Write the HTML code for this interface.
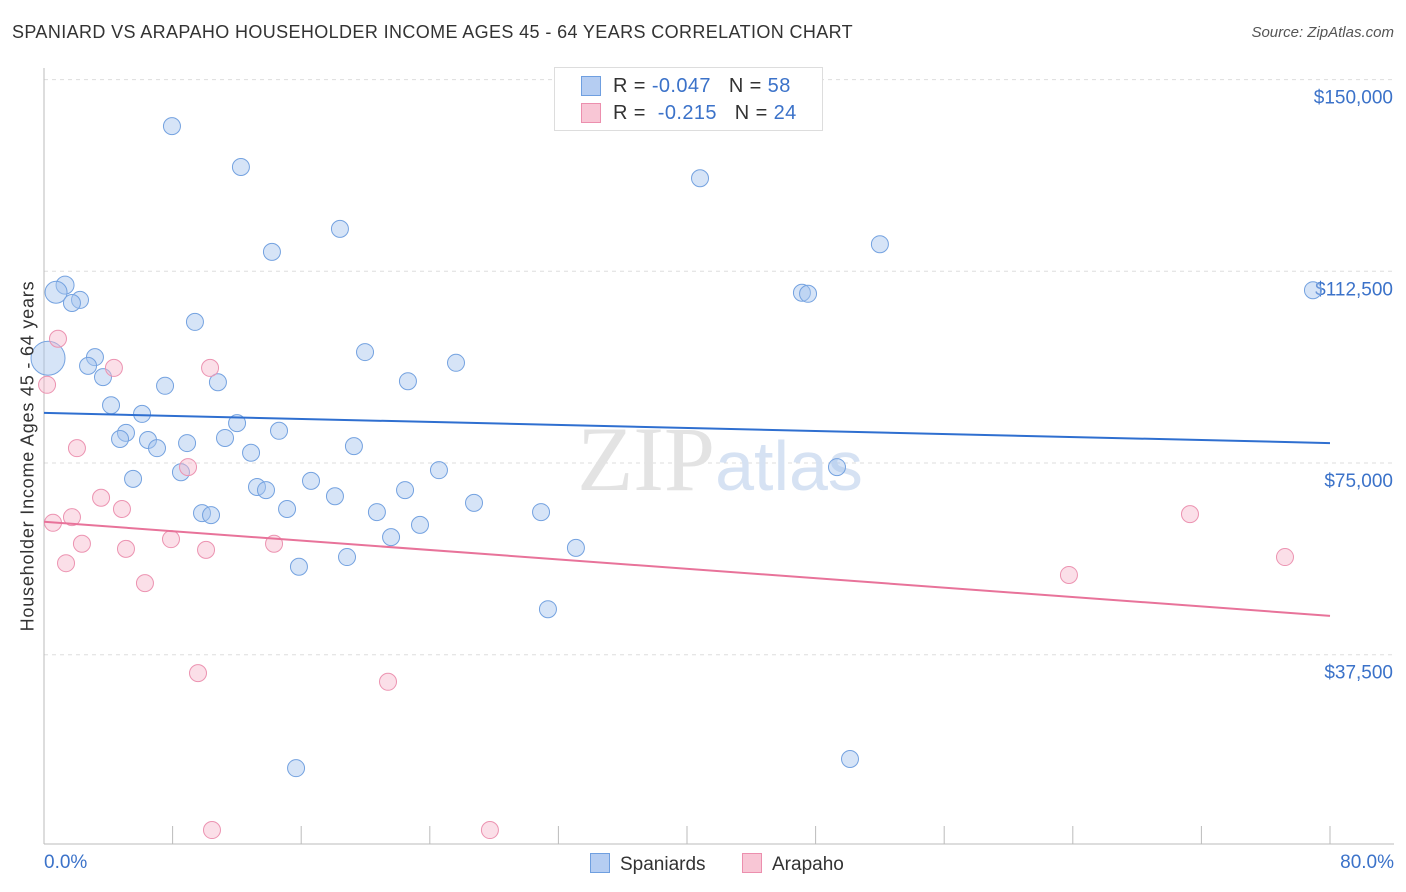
<!DOCTYPE html>
<html><head><meta charset="utf-8"><style>
body{margin:0;background:#fff;font-family:"Liberation Sans",sans-serif;}
#wrap{position:relative;width:1406px;height:892px;overflow:hidden;}
.t{position:absolute;white-space:nowrap;}
</style></head><body>
<div id="wrap">
<div class="t" style="left:12px;top:22px;font-size:18px;letter-spacing:0.38px;color:#333;">SPANIARD VS ARAPAHO HOUSEHOLDER INCOME AGES 45 - 64 YEARS CORRELATION CHART</div>
<div class="t" style="right:12px;top:24px;font-size:15px;color:#555;font-style:italic;">Source: ZipAtlas.com</div>
<svg id="svg" width="1406" height="892" style="position:absolute;left:0;top:0"></svg>
</div>
<script>
const blueX=[7.96,12.25,40.81,18.41,52.0,14.18,1.31,0.75,2.24,1.74,47.15,47.53,78.94,9.39,19.97,3.17,25.63,2.74,3.67,22.64,10.82,7.53,0.25,4.17,6.10,12.01,14.62,5.10,4.73,6.47,8.90,11.26,7.03,19.28,12.88,24.57,8.52,49.33,5.54,16.61,13.25,13.81,22.46,18.10,26.75,15.12,9.83,10.39,20.71,30.92,23.39,21.59,33.09,18.85,15.86,31.35,15.68,50.14];
const blueY=[140900,132900,130700,120800,117800,116300,109800,108400,106900,106300,108300,108100,108800,102600,96700,95700,94600,94000,91800,91000,90800,90100,95500,86300,84600,82800,81300,80900,79700,79500,78900,79900,77900,78300,77000,73600,73200,74200,71900,71500,70300,69700,69700,68500,67200,66000,65200,64800,65400,65400,62900,60500,58400,56600,54700,46400,15300,17100];
const blueR=[8.5,8.5,8.5,8.5,8.5,8.5,9,11,8.5,8.5,8.5,8.5,8.5,8.5,8.5,8.5,8.5,8.5,8.5,8.5,8.5,8.5,17,8.5,8.5,8.5,8.5,8.5,8.5,8.5,8.5,8.5,8.5,8.5,8.5,8.5,8.5,8.5,8.5,8.5,8.5,8.5,8.5,8.5,8.5,8.5,8.5,8.5,8.5,8.5,8.5,8.5,8.5,8.5,8.5,8.5,8.5,8.5];
const pinkX=[0.87,0.19,4.35,10.33,2.05,8.96,3.55,4.85,1.74,0.56,2.36,7.90,5.10,10.08,14.31,1.37,6.28,9.58,21.40,10.45,27.74,71.29,77.20,63.76];
const pinkY=[99300,90300,93600,93600,77900,74200,68200,66000,64400,63300,59200,60100,58200,58000,59200,55400,51500,33900,32200,3200,3200,65000,56600,53100];
const blueTrend=[84800,78900];
const pinkTrend=[63500,45100];
const yTicks=[150000,112500,75000,37500];
const yTickLabels=["$150,000","$112,500","$75,000","$37,500"];
const xTicks=[0,8,16,24,32,40,48,56,64,72,80];

const NS="http://www.w3.org/2000/svg";
const svg=document.getElementById('svg');
const X=p=>44+p*(1286/80);
const Y=v=>463-(v-75000)*(191.7/37500);
function mk(tag,attrs){const e=document.createElementNS(NS,tag);for(const k in attrs)e.setAttribute(k,attrs[k]);svg.appendChild(e);return e;}

yTicks.forEach((v,i)=>{
 const g=mk('line',{x1:44,x2:1394,y1:Y(v),y2:Y(v),stroke:'#ddd','stroke-dasharray':'4,4','stroke-width':1});
 
 
 const t=mk('text',{x:1393,y:Y(v)+24,'text-anchor':'end','font-size':19,fill:'#3b72c9','font-family':'Liberation Sans, sans-serif'});
 t.textContent=yTickLabels[i];
 
 
});
const ya=mk('line',{x1:44,x2:44,y1:68,y2:844,stroke:'#bbb'});


const xa=mk('line',{x1:44,x2:1394,y1:844,y2:844,stroke:'#bbb'});


xTicks.forEach(p=>{
 const l=mk('line',{x1:X(p),x2:X(p),y1:826,y2:844,stroke:'#bbb'});
 
 
});
const wm=mk('text',{x:720,y:490,'text-anchor':'middle','font-size':92,fill:'#e3e3e3','font-family':'Liberation Serif, serif'});
wm.innerHTML='ZIP<tspan fill="#d6e2f3" font-family="Liberation Sans, sans-serif" font-size="70">atlas</tspan>';



blueX.forEach((p,i)=>{
 const c=mk('circle',{cx:X(p),cy:Y(blueY[i]),r:blueR[i],fill:'rgba(165,196,238,0.45)',stroke:'#74a2e0','stroke-width':1});
 
 
});
pinkX.forEach((p,i)=>{
 const c=mk('circle',{cx:X(p),cy:Y(pinkY[i]),r:8.5,fill:'rgba(246,184,204,0.45)',stroke:'#ec93b1','stroke-width':1});
 
 
});
const bt=mk('line',{x1:X(0),x2:X(80),y1:Y(blueTrend[0]),y2:Y(blueTrend[1]),stroke:'#2f6fd0','stroke-width':2});


const pt=mk('line',{x1:X(0),x2:X(80),y1:Y(pinkTrend[0]),y2:Y(pinkTrend[1]),stroke:'#e8739a','stroke-width':2});


</script>
<div class="t" style="left:44px;top:852px;font-size:19px;color:#3b72c9;">0.0%</div>
<div class="t" style="right:12px;top:852px;font-size:19px;color:#3b72c9;">80.0%</div>
<div class="t" style="left:28px;top:456px;font-size:18px;letter-spacing:0.8px;color:#333;transform:translate(-50%,-50%) rotate(-90deg);">Householder Income Ages 45 - 64 years</div>
<div style="position:absolute;left:554px;top:67px;width:267px;height:62px;border:1px solid #ddd;background:#fff;font-size:20px;letter-spacing:0.4px;">
 <div style="position:absolute;left:26px;top:8px;width:18px;height:18px;background:#b5cdf2;border:1px solid #6f9fe0;"></div>
 <div class="t" style="left:58px;top:7px;color:#333;">R = <span style="color:#3b72c9">-0.047</span>&nbsp;&nbsp;&nbsp;N = <span style="color:#3b72c9">58</span></div>
 <div style="position:absolute;left:26px;top:35px;width:18px;height:18px;background:#f8c6d5;border:1px solid #ec8fae;"></div>
 <div class="t" style="left:58px;top:34px;color:#333;">R = &nbsp;<span style="color:#3b72c9">-0.215</span>&nbsp;&nbsp;&nbsp;N = <span style="color:#3b72c9">24</span></div>
</div>
<div style="position:absolute;left:590px;top:853px;font-size:19px;color:#333;">
 <span style="display:inline-block;width:18px;height:18px;background:#b5cdf2;border:1px solid #6f9fe0;vertical-align:-3px;margin-right:10px;"></span>Spaniards</div>
<div style="position:absolute;left:742px;top:853px;font-size:19px;color:#333;">
 <span style="display:inline-block;width:18px;height:18px;background:#f8c6d5;border:1px solid #ec8fae;vertical-align:-3px;margin-right:10px;"></span>Arapaho</div>
</body></html>
